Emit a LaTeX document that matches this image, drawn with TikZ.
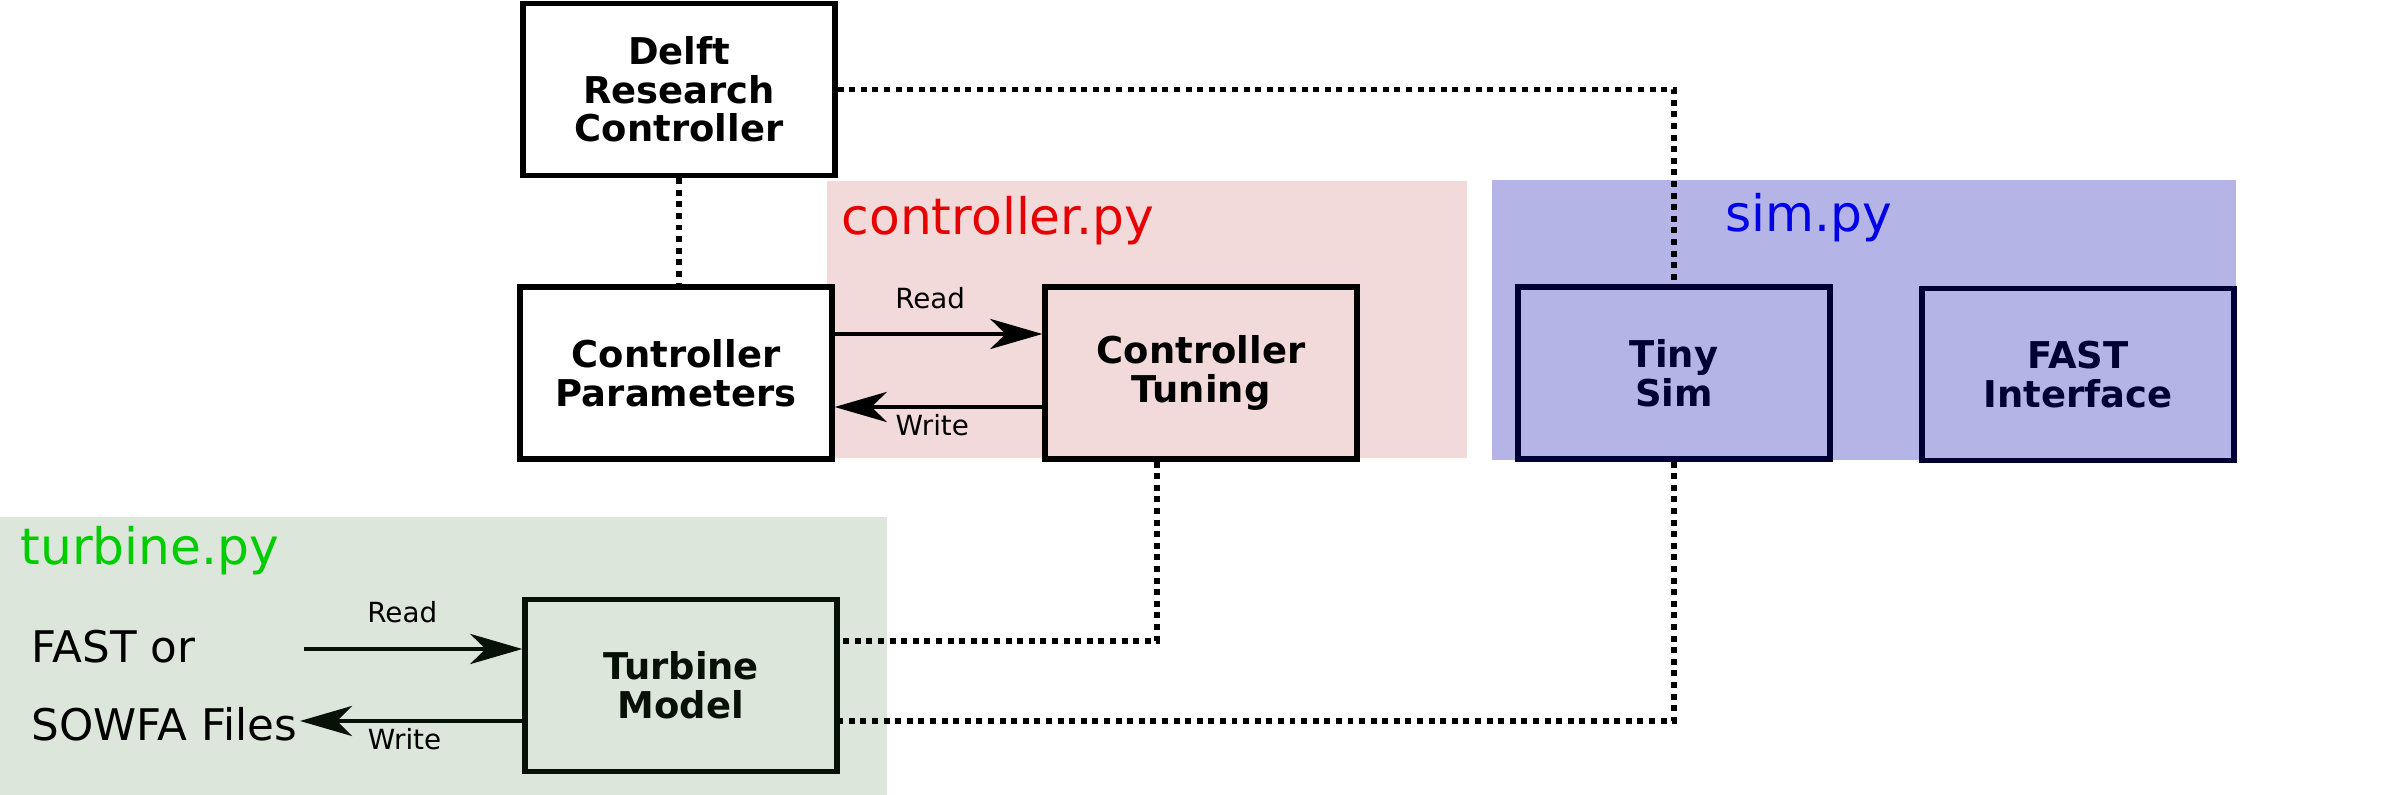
\documentclass[tikz,border=0pt]{standalone}
\usepackage{fontspec}
\setmainfont{DejaVu Sans}
\usepackage{xcolor}
\definecolor{ctlbg}{HTML}{F3DADA}
\definecolor{simbg}{HTML}{B4B5E6}
\definecolor{turbg}{HTML}{DCE6DA}
\definecolor{ctlkw}{HTML}{E60000}
\definecolor{simkw}{HTML}{0000E6}
\definecolor{turkw}{HTML}{00CC00}
\definecolor{simln}{HTML}{000033}
\definecolor{turln}{HTML}{061206}
\usetikzlibrary{arrows.meta,positioning,calc}

\begin{document}
\begin{tikzpicture}[scale=1,
  modbox/.style={draw,line width=1.5pt,minimum width=3.12cm,minimum height=1.72cm,
    align=center,inner sep=2pt,font=\fontsize{10.5}{11}\selectfont\bfseries},
  pylabel/.style={anchor=base west,inner sep=0pt,font=\fontsize{14.3}{16}\selectfont},
  filelabel/.style={anchor=base west,inner sep=0pt,font=\fontsize{12.4}{14}\selectfont},
  rwlabel/.style={anchor=base,font=\fontsize{7.9}{9}\selectfont},
  flow/.style={line width=1.35pt,-{Stealth[length=5.2mm,width=3mm,inset=1.5mm]}},
  link/.style={line width=1.7pt,dash pattern=on 1.7pt off 1.6pt}]
\useasboundingbox (0,0) rectangle (24.02,-7.95);

% module areas
\fill[ctlbg] (8.27,-1.81) rectangle (14.67,-4.58);
\fill[simbg] (14.92,-1.80) rectangle (22.36,-4.60);
\fill[turbg] (0,-5.17) rectangle (8.87,-7.95);
\node[pylabel,text=ctlkw] (ctlpy) at (8.41,-2.35) {controller.py};
\node[pylabel,text=simkw] (simpy) at (17.25,-2.32) {sim.py};
\node[pylabel,text=turkw] (turpy) at (0.20,-5.65) {turbine.py};

% blocks
\node[modbox,fill=white] (delft) at (6.79,-0.895) {Delft\\Research\\Controller};
\node[modbox,fill=white] (params) at (6.76,-3.73) {Controller\\Parameters};
\node[modbox] (tuning) at (12.01,-3.73) {Controller\\Tuning};
\node[modbox,draw=simln,text=simln] (tinysim) at (16.74,-3.73) {Tiny\\Sim};
\node[modbox,draw=simln,text=simln] (fastif) at (20.78,-3.745) {FAST\\Interface};
\node[modbox,draw=turln,text=turln] (turbine) at (6.81,-6.855) {Turbine\\Model};

% input files
\node[filelabel] (fastor) at (0.31,-6.63) {FAST or};
\node[filelabel] (sowfa) at (0.31,-7.41) {SOWFA Files};
\coordinate (filein) at (3.04,-6.49);
\coordinate (fileout) at (3.00,-7.21);

% read / write
\draw[flow] ([yshift=3.9mm]params.east) -- ([yshift=3.9mm]tuning.west)
  node[rwlabel,pos=0.46,yshift=2.5mm] {Read};
\draw[flow] ([yshift=-3.4mm]tuning.west) -- ([yshift=-3.4mm]params.east)
  node[rwlabel,pos=0.53,yshift=-2.9mm] {Write};
\draw[flow,draw=turln] (filein) -- (filein -| turbine.west)
  node[rwlabel,pos=0.45,yshift=2.6mm] {Read};
\draw[flow,draw=turln] (fileout -| turbine.west) -- (fileout)
  node[rwlabel,pos=0.53,yshift=-2.9mm] {Write};

% links
\draw[link] (delft.east) -| (tinysim.north);
\draw[link] (delft.south) -- (delft.south |- params.north);
\draw[link] ([xshift=-4.4mm]tuning.south) |- ([yshift=4.45mm]turbine.east);
\draw[link] (tinysim.south) |- ([yshift=-3.55mm]turbine.east);
\end{tikzpicture}
\end{document}
